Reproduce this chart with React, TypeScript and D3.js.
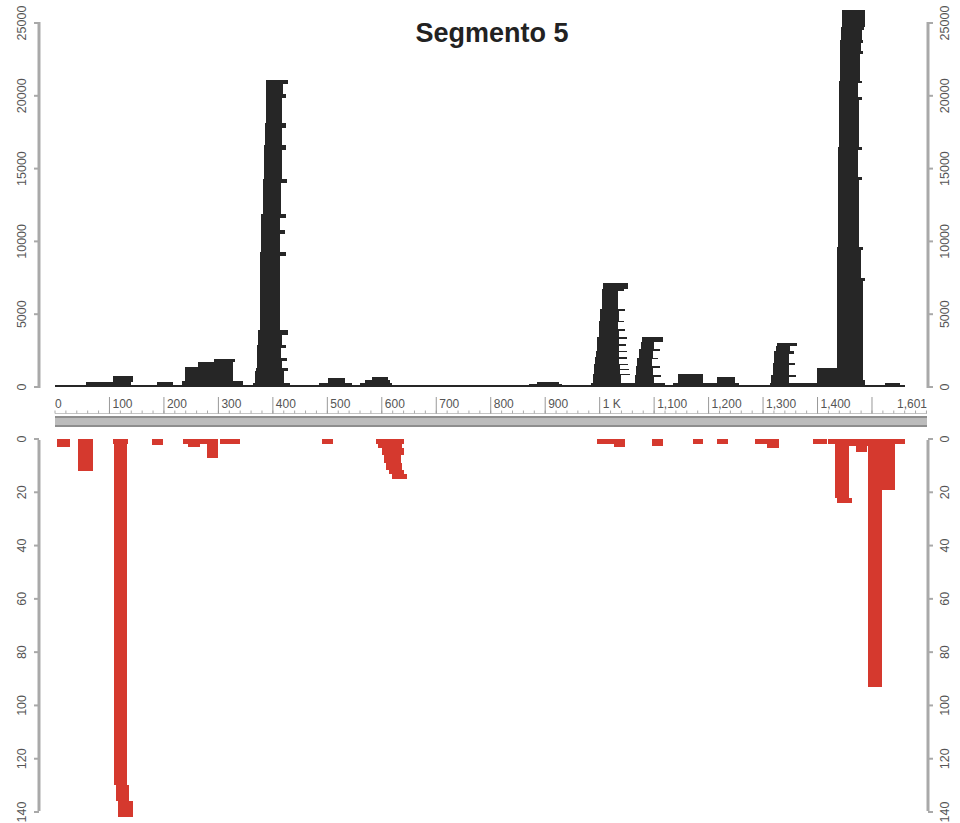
import React from 'react';
import * as d3 from 'd3';

const width = 960;
const height = 823;
const black = '#262626';
const red = '#d5392e';
const axisGray = '#a9a9a9';
const labelGray = '#555';
const font = '"Liberation Sans", Arial, sans-serif';

const seqLength = 1601;

// coverage pileup, each row = [top of band, start bp, end bp], band starts at previous row's top
const covBaseline = [[130, 0, 1560]];
const cov100 = [[350, 57, 140], [750, 106, 143]];
const cov200 = [[150, 165, 230], [350, 187, 217]];
const cov300 = [[400, 234, 345], [1370, 239, 327], [1720, 263, 327], [1920, 292, 330]];
const cov400 = [
  [300, 364, 431], [1100, 368, 420], [1300, 369, 428], [1800, 370, 416], [2000, 370, 426],
  [2650, 371, 415], [2900, 371, 424], [3600, 372, 416], [3900, 372, 427], [9000, 376, 414],
  [9250, 377, 424], [10500, 378, 413], [10750, 378, 422], [11600, 379, 414], [11850, 379, 425],
  [14000, 381, 415], [14300, 381, 426], [16300, 384, 416], [16600, 384, 425], [17800, 386, 416],
  [18100, 386, 424], [19850, 387, 417], [20150, 387, 425], [20800, 388, 418], [21100, 388, 427]
];
const cov500 = [[300, 484, 545], [620, 501, 532]];
const cov600 = [[300, 560, 619], [500, 570, 615], [690, 582, 611]];
const cov900 = [[200, 870, 930], [350, 885, 925]];
const cov1000 = [
  [300, 985, 1062], [800, 988, 1040], [900, 988, 1055], [1150, 989, 1038], [1250, 989, 1053],
  [1500, 990, 1037], [1600, 990, 1052], [1950, 992, 1036], [2060, 992, 1050], [2380, 993, 1036],
  [2480, 993, 1050], [2850, 995, 1035], [2950, 995, 1049], [3330, 996, 1036], [3430, 996, 1050],
  [3880, 998, 1035], [3980, 998, 1047], [4430, 999, 1034], [4550, 999, 1045], [5250, 1001, 1035],
  [5380, 1001, 1047], [6600, 1004, 1033], [6750, 1004, 1045], [7150, 1006, 1052]
];
const cov1050 = [
  [300, 1062, 1120], [700, 1064, 1100], [800, 1064, 1112], [1300, 1066, 1098], [1420, 1066, 1110],
  [1900, 1069, 1097], [2020, 1069, 1108], [2500, 1072, 1098], [2620, 1072, 1110], [3100, 1075, 1099],
  [3450, 1077, 1116]
];
const cov1130 = [[300, 1135, 1195], [890, 1144, 1190]];
const cov1200 = [[300, 1195, 1255], [690, 1215, 1248]];
const cov1300 = [
  [300, 1312, 1366], [700, 1315, 1348], [850, 1315, 1360], [1500, 1318, 1347], [1650, 1318, 1358],
  [2300, 1321, 1347], [2450, 1321, 1357], [2850, 1324, 1350], [3050, 1326, 1362]
];
const cov1400 = [[280, 1362, 1440], [1300, 1399, 1437]];
const cov1450 = [
  [480, 1430, 1488], [7300, 1435, 1483], [7500, 1435, 1487], [9400, 1436, 1479], [9600, 1436, 1484],
  [14200, 1437, 1476], [14400, 1437, 1482], [16250, 1438, 1475], [16450, 1438, 1481], [19700, 1439, 1476],
  [19900, 1439, 1482], [20850, 1440, 1475], [21050, 1440, 1481], [22900, 1441, 1478], [23100, 1441, 1483],
  [23600, 1442, 1480], [23800, 1442, 1484], [24500, 1443, 1482], [24700, 1443, 1486], [25900, 1445, 1487]
];
const cov1540 = [[280, 1524, 1551]];

const coveragePeaks = [
  covBaseline, cov100, cov200, cov300, cov400, cov500, cov600, cov900, cov1000,
  cov1050, cov1130, cov1200, cov1300, cov1400, cov1450, cov1540
];

// read counts, drawn downward: [bottom of band, start bp, end bp]
const reads0 = [[3, 4, 28]];
const reads50 = [[12, 42, 70]];
const reads100 = [[2, 106, 134], [130, 109, 132], [136, 112, 136], [142, 115, 143]];
const reads190 = [[2.2, 178, 198]];
const reads250 = [[2, 235, 300], [3, 245, 266]];
const reads290 = [[7, 279, 299]];
const reads320 = [[2, 303, 339]];
const reads500 = [[2, 490, 510]];
const reads600 = [[2, 589, 641], [3.5, 593, 637], [6, 600, 640], [9, 604, 636], [11.5, 608, 637], [13, 613, 640], [15, 619, 646]];
const reads1000 = [[2, 995, 1032]];
const reads1035 = [[3, 1026, 1046]];
const reads1100 = [[2.5, 1096, 1116]];
const reads1180 = [[2, 1171, 1190]];
const reads1225 = [[2, 1215, 1236]];
const reads1290 = [[2, 1285, 1307]];
const reads1318 = [[3.5, 1307, 1329]];
const reads1400 = [[2, 1392, 1417]];
const reads1490 = [[2, 1419, 1560]];
const reads1445 = [[22, 1432, 1458], [24, 1436, 1463]];
const reads1475 = [[2.5, 1455, 1495], [5, 1470, 1490]];
const reads1505 = [[93, 1493, 1518]];
const reads1530 = [[19, 1518, 1542]];

const readPeaks = [
  reads0, reads50, reads100, reads190, reads250, reads290, reads320, reads500, reads600,
  reads1000, reads1035, reads1100, reads1180, reads1225, reads1290, reads1318, reads1400,
  reads1490, reads1445, reads1475, reads1505, reads1530
];

const covTicks = [0, 5000, 10000, 15000, 20000, 25000];
const readTicks = [0, 20, 40, 60, 80, 100, 120, 140];
const rulerTicks = [0, 100, 200, 300, 400, 500, 600, 700, 800, 900, 1000, 1100, 1200, 1300, 1400, 1500];
const rulerLabels = ['0', '100', '200', '300', '400', '500', '600', '700', '800', '900', '1 K', '1,100', '1,200', '1,300', '1,400', ''];

const x = d3.scaleLinear().domain([0, seqLength]).range([55, 927]);
const yTop = d3.scaleLinear().domain([0, 25000]).range([387, 23]);
const yBot = d3.scaleLinear().domain([0, 140]).range([439, 812]);

const leftAxisX = 39;
const rightAxisX = 928;

function Bands({ peaks, scale, fill }) {
  return (
    <g fill={fill} shapeRendering="crispEdges">
      {peaks.map((rows, pi) =>
        rows.map((r, i) => {
          const lo = i === 0 ? 0 : rows[i - 1][0];
          const ya = scale(lo);
          const yb = scale(r[0]);
          return (
            <rect
              key={pi + '-' + i}
              x={x(r[1])}
              width={x(r[2]) - x(r[1])}
              y={Math.min(ya, yb)}
              height={Math.abs(yb - ya)}
            />
          );
        })
      )}
    </g>
  );
}

function VAxis({ scale, ticks, ax, side }) {
  const [r0, r1] = scale.range();
  const dir = side === 'left' ? -1 : 1;
  return (
    <g>
      <line x1={ax} x2={ax} y1={r0 + 1} y2={r1 - 1} stroke={axisGray} strokeWidth={3} />
      {ticks.map(t => (
        <g key={t}>
          <line x1={ax} x2={ax + dir * 5} y1={scale(t)} y2={scale(t)} stroke={axisGray} strokeWidth={2} />
          <text
            transform={`translate(${ax + dir * 17},${scale(t)}) rotate(-90)`}
            textAnchor="middle"
            dominantBaseline="central"
            fontSize={12.5}
            fontFamily={font}
            fill={labelGray}
          >
            {t}
          </text>
        </g>
      ))}
    </g>
  );
}

function Ruler() {
  const minor = d3.range(0, seqLength, 20);
  return (
    <g>
      <line x1={55} x2={927} y1={413.5} y2={413.5} stroke="#c4c4c4" strokeWidth={1} />
      {minor.map(m => (
        <line key={m} x1={x(m)} x2={x(m)} y1={410.5} y2={413.5} stroke="#aaa" strokeWidth={1} />
      ))}
      {rulerTicks.map((t, i) => (
        <g key={t}>
          {t > 0 && <line x1={x(t)} x2={x(t)} y1={397} y2={413.5} stroke="#999" strokeWidth={1} />}
          <text
            x={t === 0 ? x(t) : x(t) + 3}
            y={408}
            fontSize={12}
            fontFamily={font}
            fill={labelGray}
          >
            {rulerLabels[i]}
          </text>
        </g>
      ))}
      <text x={x(seqLength)} y={408} textAnchor="end" fontSize={12} fontFamily={font} fill={labelGray}>
        1,601
      </text>
      <rect x={55} y={416} width={x(seqLength) - 55} height={11} fill="#bcbcbc" />
      <line x1={55} x2={x(seqLength)} y1={417} y2={417} stroke="#8e8e8e" strokeWidth={2} />
      <line x1={55} x2={x(seqLength)} y1={426} y2={426} stroke="#8e8e8e" strokeWidth={2} />
    </g>
  );
}

export default function App() {
  return (
    <svg
      width={width}
      height={height}
      style={{ position: 'absolute', left: 0, top: 0, background: '#fff' }}
    >
      <Bands peaks={coveragePeaks} scale={yTop} fill={black} />
      <Bands peaks={readPeaks} scale={yBot} fill={red} />
      <VAxis scale={yTop} ticks={covTicks} ax={leftAxisX} side="left" />
      <VAxis scale={yTop} ticks={covTicks} ax={rightAxisX} side="right" />
      <VAxis scale={yBot} ticks={readTicks} ax={leftAxisX} side="left" />
      <VAxis scale={yBot} ticks={readTicks} ax={rightAxisX} side="right" />
      <Ruler />
      <text x={492} y={42} textAnchor="middle" fontSize={27} fontWeight="bold" fontFamily={font} fill="#222">
        Segmento 5
      </text>
    </svg>
  );
}
